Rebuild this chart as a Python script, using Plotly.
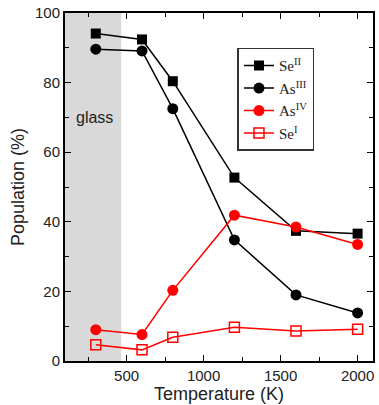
import plotly.graph_objects as go

temps = [300, 600, 800, 1200, 1600, 2000]
se2 = [94.1, 92.4, 80.4, 52.7, 37.4, 36.6]
as3 = [89.6, 89.1, 72.5, 34.8, 19.0, 13.8]
as4 = [9.0, 7.6, 20.3, 41.9, 38.5, 33.5]
se1 = [4.7, 3.2, 6.8, 9.7, 8.6, 9.1]
glass_limit = 465

fig = go.Figure()
fig.add_vrect(x0=100, x1=glass_limit, fillcolor="#d9d9d9", line_width=0, layer="below")

fig.add_trace(go.Scatter(x=temps, y=se2, mode="lines+markers", name="Se<sup>II</sup>",
                         line=dict(color="black", width=1.5),
                         marker=dict(symbol="square", size=10, color="black")))
fig.add_trace(go.Scatter(x=temps, y=as3, mode="lines+markers", name="As<sup>III</sup>",
                         line=dict(color="black", width=1.5),
                         marker=dict(symbol="circle", size=11, color="black")))
fig.add_trace(go.Scatter(x=temps, y=as4, mode="lines+markers", name="As<sup>IV</sup>",
                         line=dict(color="#ff0000", width=1.5),
                         marker=dict(symbol="circle", size=11, color="#ff0000")))
fig.add_trace(go.Scatter(x=temps, y=se1, mode="lines+markers", name="Se<sup>I</sup>",
                         line=dict(color="#ff0000", width=1.5),
                         marker=dict(symbol="square-open", size=10, color="#ff0000",
                                     line=dict(width=1.5, color="#ff0000"))))

fig.add_annotation(x=0.03, y=70, xref="paper", yref="y", text="glass", showarrow=False,
                   xanchor="left", font=dict(family="Liberation Sans, Arial", size=16, color="#222"))

axis_common = dict(showgrid=False, zeroline=False, showline=True, linecolor="black", linewidth=2,
                   mirror="ticks", ticks="inside", ticklen=6, tickwidth=1.2, tickcolor="black",
                   tickfont=dict(family="Liberation Sans, Arial", size=15, color="#222"))

fig.update_xaxes(range=[100, 2100], tickvals=[500, 1000, 1500, 2000],
                 title=dict(text="Temperature (K)", font=dict(family="Liberation Sans, Arial", size=18, color="#222"), standoff=4),
                 minor=dict(ticks="inside", ticklen=4, tickwidth=1.2, tickcolor="black", tickvals=[250, 750, 1250, 1750]),
                 **axis_common)
fig.update_yaxes(range=[0, 100], dtick=20,
                 title=dict(text="Population (%)", font=dict(family="Liberation Sans, Arial", size=18, color="#222"), standoff=6),
                 minor=dict(ticks="inside", ticklen=4, tickwidth=1.2, tickcolor="black", dtick=10),
                 **axis_common)

fig.update_layout(
    width=379, height=405,
    margin=dict(l=65, r=4, t=13, b=43),
    plot_bgcolor="white", paper_bgcolor="white",
    legend=dict(x=0.56, y=0.9, xanchor="left", yanchor="top",
                bordercolor="#333", borderwidth=1.5, bgcolor="white",
                font=dict(family="Liberation Serif, Times New Roman", size=15, color="#222"),
                tracegroupgap=0, itemwidth=30),
    showlegend=True,
)

fig.write_html("out.html")
